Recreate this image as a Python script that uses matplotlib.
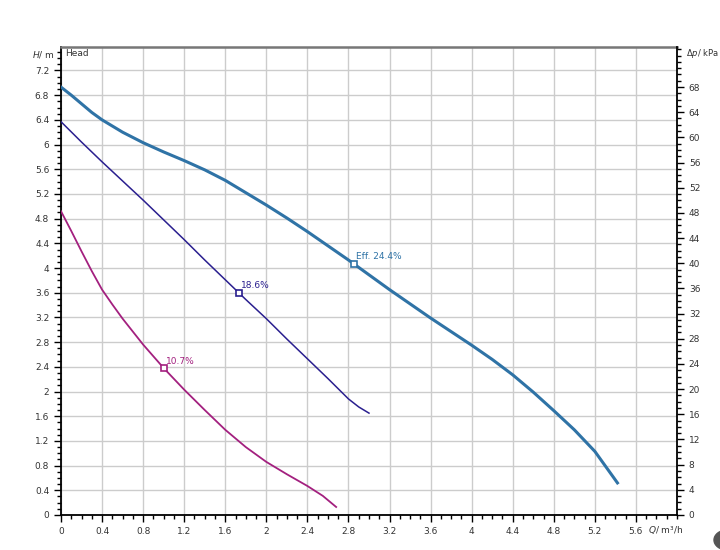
import matplotlib
matplotlib.use("Agg")
import matplotlib.pyplot as plt
from matplotlib.ticker import MultipleLocator, FixedLocator
from matplotlib.patches import Circle

# curve data (Q in m3/h, H in m)
q_high = [0, 0.1, 0.2, 0.3, 0.4, 0.6, 0.8, 1.0, 1.2, 1.4, 1.6, 1.8, 2.0, 2.2, 2.4, 2.6, 2.8,
          3.0, 3.2, 3.4, 3.6, 3.8, 4.0, 4.2, 4.4, 4.6, 4.8, 5.0, 5.2, 5.42]
h_high = [6.93, 6.80, 6.66, 6.52, 6.40, 6.20, 6.03, 5.88, 5.74, 5.59, 5.42, 5.22, 5.02, 4.81,
          4.59, 4.36, 4.13, 3.89, 3.65, 3.42, 3.19, 2.97, 2.75, 2.52, 2.27, 1.99, 1.69, 1.38, 1.03, 0.52]
q_mid = [0, 0.2, 0.4, 0.6, 0.8, 1.0, 1.2, 1.4, 1.6, 1.8, 2.0, 2.2, 2.4, 2.6, 2.8, 2.9, 3.0]
h_mid = [6.37, 6.04, 5.72, 5.41, 5.10, 4.78, 4.46, 4.13, 3.81, 3.49, 3.18, 2.85, 2.53, 2.21,
         1.88, 1.75, 1.65]
q_low = [0, 0.1, 0.2, 0.3, 0.4, 0.5, 0.6, 0.8, 1.0, 1.2, 1.4, 1.6, 1.8, 2.0, 2.2, 2.4, 2.55, 2.68]
h_low = [4.92, 4.60, 4.27, 3.95, 3.65, 3.41, 3.18, 2.76, 2.38, 2.03, 1.70, 1.38, 1.10, 0.86,
         0.66, 0.47, 0.31, 0.13]

eff_q = [2.85, 1.73, 1.0]
eff_h = [4.07, 3.60, 2.38]
eff_labels = ["Eff. 24.4%", "18.6%", "10.7%"]
colors = ["#2f73a6", "#2a1f8f", "#a3207f"]

x_ticks = [0, 0.4, 0.8, 1.2, 1.6, 2, 2.4, 2.8, 3.2, 3.6, 4, 4.4, 4.8, 5.2, 5.6]
x_labels = ["0", "0.4", "0.8", "1.2", "1.6", "2", "2.4", "2.8", "3.2", "3.6", "4", "4.4", "4.8", "5.2", "5.6"]
y_ticks = [0, 0.4, 0.8, 1.2, 1.6, 2, 2.4, 2.8, 3.2, 3.6, 4, 4.4, 4.8, 5.2, 5.6, 6, 6.4, 6.8, 7.2]
kpa_ticks = list(range(0, 72, 4))

fig = plt.figure(figsize=(7.2, 5.5), dpi=100)
ax = fig.add_axes([61 / 720, 1 - 515 / 550, 616 / 720, 468 / 550])
ax.set_xlim(0, 6.0)
ax.set_ylim(0, 7.58)

ax.plot(q_high, h_high, color=colors[0], lw=2.2, zorder=3)
ax.plot(q_mid, h_mid, color=colors[1], lw=1.1, zorder=3)
ax.plot(q_low, h_low, color=colors[2], lw=1.3, zorder=3)

for q, h, lab, c in zip(eff_q, eff_h, eff_labels, colors):
    ax.plot(q, h, marker="s", ms=4.5, mfc="white", mec=c, mew=1.2, zorder=4)
    ax.text(q + 0.02, h + 0.07, lab, color=c, fontsize=6.5, zorder=5)

ax.set_xticks(x_ticks)
ax.set_xticklabels(x_labels)
ax.xaxis.set_minor_locator(MultipleLocator(0.1))
ax.set_yticks(y_ticks)
ax.set_yticklabels([("%g" % v) for v in y_ticks])
ax.yaxis.set_minor_locator(MultipleLocator(0.1))
ax.grid(True, which="major", color="#cccccc", lw=1.0)
ax.set_axisbelow(True)

ax.tick_params(which="major", length=5, width=1, labelsize=6.5, colors="black", labelcolor="#333333")
ax.tick_params(which="minor", length=3, width=1)

ax.spines["top"].set_color("#777777")
ax.spines["top"].set_linewidth(1.8)
ax.spines["right"].set_visible(False)
ax.spines["left"].set_linewidth(1.3)
ax.spines["bottom"].set_linewidth(1.3)

# right axis in kPa (rho*g*H)
ax2 = ax.twinx()
ax2.set_ylim(0, 7.58 * 9.81)
ax2.yaxis.set_major_locator(FixedLocator(kpa_ticks))
ax2.yaxis.set_minor_locator(MultipleLocator(1))
ax2.tick_params(which="major", length=5, width=1, labelsize=6.5, labelcolor="#333333")
ax2.tick_params(which="minor", length=3, width=1)
for s in ["top", "left", "bottom"]:
    ax2.spines[s].set_visible(False)
ax2.spines["right"].set_linewidth(1.3)

ax.text(0.04, 7.47, "Head", fontsize=6.5, color="#333333", va="center")
fig.text(32 / 720, 1 - 54 / 550, r"$\bf{\it{H}}$/ m", fontsize=6.5, va="center", color="#333333")
fig.text(686 / 720, 1 - 54 / 550, r"Δ$\it{p}$/ kPa", fontsize=6, va="center", color="#333333")
fig.text(648 / 720, 1 - 530 / 550, r"$\bf{\it{Q}}$/ m³/h", fontsize=6.5, va="center", color="#333333")

fig.patches.append(Circle((727 / 720, 1 - 540 / 550), 13 / 720, transform=fig.transFigure,
                          color="#555555", clip_on=False))

fig.savefig("out.png", dpi=100)
